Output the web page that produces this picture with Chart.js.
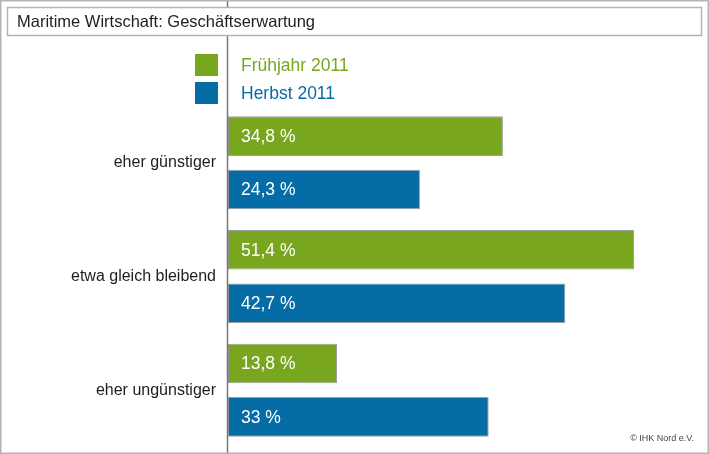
<!DOCTYPE html>
<html>
<head>
<meta charset="utf-8">
<script src="https://cdn.jsdelivr.net/npm/chart.js@4.4.1/dist/chart.umd.min.js"></script>
<style>
  html, body { margin: 0; padding: 0; background: #fff; }
  #wrap { width: 709px; height: 454px; }
</style>
</head>
<body>
<div id="wrap"><canvas id="chart" width="709" height="454"></canvas></div>
<script>
const chartTitle = "Maritime Wirtschaft: Geschäftserwartung";
const categories = ["eher günstiger", "etwa gleich bleibend", "eher ungünstiger"];
const seriesNames = ["Frühjahr 2011", "Herbst 2011"];
const fruehjahr = [34.8, 51.4, 13.8];
const herbst = [24.3, 42.7, 33];
const xMax = 60;
const credit = "© IHK Nord e.V.";

const green = "#78a61f";
const blue = "#066ca5";
const font = "'Liberation Sans', Arial, Helvetica, sans-serif";

function fmt(v) {
    return v.toString().replace(".", ",") + " %";
}

// frame, title box, legend, axis line, labels
const decor = {
    id: "decor",
    beforeDraw(chart) {
        const ctx = chart.ctx;
        const x0 = chart.scales.x.getPixelForValue(0);
        ctx.save();
        ctx.fillStyle = "#fff";
        ctx.fillRect(0, 0, chart.width, chart.height);
        ctx.strokeStyle = "#777";
        ctx.lineWidth = 1.5;
        ctx.beginPath();
        ctx.moveTo(x0 - 0.5, 0);
        ctx.lineTo(x0 - 0.5, chart.height);
        ctx.stroke();
        ctx.restore();
    },
    afterDraw(chart) {
        const ctx = chart.ctx;
        ctx.save();
        // outer frame
        ctx.strokeStyle = "#b4b4b4";
        ctx.lineWidth = 1.5;
        ctx.strokeRect(0.75, 0.75, chart.width - 1.5, chart.height - 1.5);
        // title box
        ctx.fillStyle = "#fff";
        ctx.fillRect(7, 7, 695, 28);
        ctx.strokeRect(7.5, 7.5, 694, 28);
        ctx.fillStyle = "#1e1e1e";
        ctx.font = "16.5px " + font;
        ctx.textBaseline = "middle";
        ctx.fillText(chartTitle, 17, 22);

        // legend
        chart.data.datasets.forEach((ds, i) => {
            const y = 54 + i * 28;
            ctx.fillStyle = ds.backgroundColor;
            ctx.fillRect(195, y, 23, 22);
            ctx.font = "17.5px " + font;
            ctx.textBaseline = "middle";
            ctx.fillText(ds.label, 241, y + 12);
        });

        // value labels inside bars
        ctx.fillStyle = "#fff";
        ctx.font = "17.5px " + font;
        ctx.textBaseline = "middle";
        chart.data.datasets.forEach((ds, i) => {
            chart.getDatasetMeta(i).data.forEach((bar, j) => {
                ctx.fillText(fmt(ds.data[j]), bar.base + 13, bar.y + 1);
            });
        });

        // credit
        ctx.fillStyle = "#444";
        ctx.font = "9px " + font;
        ctx.textAlign = "right";
        ctx.fillText(credit, 694, 439);
        ctx.restore();
    }
};

new Chart(document.getElementById("chart"), {
    type: "bar",
    data: {
        labels: categories,
        datasets: [
            { label: seriesNames[0], data: fruehjahr, backgroundColor: green },
            { label: seriesNames[1], data: herbst, backgroundColor: blue }
        ]
    },
    options: {
        indexAxis: "y",
        responsive: false,
        animation: false,
        devicePixelRatio: 1,
        layout: { padding: { top: 106, bottom: 7, right: 7, left: 0 } },
        datasets: {
            bar: {
                categoryPercentage: 0.94,
                barPercentage: 0.74,
                borderColor: "rgba(80,80,80,0.55)",
                borderWidth: 1,
                borderSkipped: false
            }
        },
        plugins: {
            legend: { display: false },
            tooltip: { enabled: false }
        },
        scales: {
            x: {
                display: false,
                min: 0,
                max: xMax
            },
            y: {
                grid: { display: false, drawTicks: false },
                border: { display: false },
                ticks: {
                    color: "#1e1e1e",
                    font: { family: font, size: 16 },
                    padding: 12
                },
                afterFit(scale) {
                    scale.width = 228;
                    scale.paddingTop = 0;
                    scale.paddingBottom = 0;
                }
            }
        }
    },
    plugins: [decor]
});
</script>
</body>
</html>
